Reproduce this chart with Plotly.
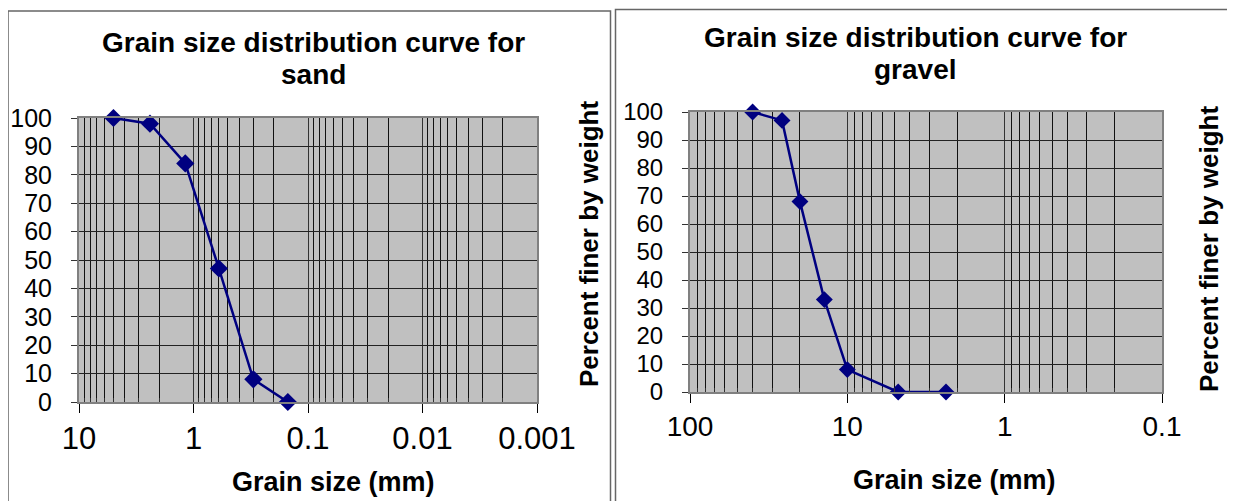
import plotly.graph_objects as go

# The page body has an 8px default margin; the figure is sized to fit the
# 1235x501 window inside it, and reference pixel positions are offset by it.
PAGE_W, PAGE_H = 1235, 501
OFF = 8
W, H = PAGE_W - OFF, PAGE_H - OFF

# ---- data ----
sand_size_mm = [5.0, 2.4, 1.18, 0.6, 0.3, 0.15]
sand_pct_finer = [100, 98, 84, 47, 8, 0]

gravel_size_mm = [40, 26, 20, 14, 10, 4.75, 2.36]
gravel_pct_finer = [100, 97, 68, 33, 8, 0, 0]

sand_xticks = [10, 1, 0.1, 0.01, 0.001]
sand_xticktext = ["10", "1", "0.1", "0.01", "0.001"]
gravel_xticks = [100, 10, 1, 0.1]
gravel_xticktext = ["100", "10", "1", "0.1"]
y_ticks = list(range(0, 101, 10))
y_ticktext = [str(v) for v in y_ticks]

title_sand = ["Grain size distribution curve for", "sand"]
title_gravel = ["Grain size distribution curve for", "gravel"]
x_title = "Grain size (mm)"
y_title = "Percent finer by weight"

FONT = "Liberation Sans, Arial, sans-serif"
NAVY = "#000080"


def px(x):
    return (x - OFF) / W


def py(y):
    return 1 - (y - OFF) / H


def minor_vals(k_lo, k_hi):
    return [m * 10.0 ** k for k in range(k_lo, k_hi + 1) for m in range(2, 10)]


fig = go.Figure()

fig.add_trace(go.Scatter(
    x=sand_size_mm, y=sand_pct_finer, mode="lines+markers",
    line=dict(color=NAVY, width=2.5),
    marker=dict(symbol="diamond", size=14, color=NAVY),
    cliponaxis=False, xaxis="x", yaxis="y", showlegend=False))

fig.add_trace(go.Scatter(
    x=gravel_size_mm, y=gravel_pct_finer, mode="lines+markers",
    line=dict(color=NAVY, width=2.5),
    marker=dict(symbol="diamond", size=13, color=NAVY),
    cliponaxis=False, xaxis="x2", yaxis="y2", showlegend=False))


def xaxis_cfg(dom, rng, tv, tt, minor, fsize, anchor):
    return dict(
        domain=dom, type="log", range=rng, anchor=anchor, automargin=False,
        tickmode="array", tickvals=tv, ticktext=tt,
        ticks="outside", ticklen=9, tickwidth=1, tickcolor="#000",
        ticklabelstandoff=-1,
        tickfont=dict(family=FONT, size=fsize, color="#000"),
        showgrid=True, gridcolor="#333", gridwidth=1,
        showline=True, linecolor="#808080", linewidth=2, mirror=True,
        zeroline=False,
        minor=dict(tickvals=minor, showgrid=True, gridcolor="#111",
                   gridwidth=1, ticks="inside", ticklen=4, tickcolor="#333"),
    )


def yaxis_cfg(dom, fsize, anchor):
    return dict(
        domain=dom, range=[0, 100], anchor=anchor, automargin=False,
        tickmode="array", tickvals=y_ticks, ticktext=y_ticktext,
        ticks="outside", ticklen=6, tickcolor="#333",
        ticklabelstandoff=14,
        tickfont=dict(family=FONT, size=fsize, color="#000"),
        showgrid=True, gridcolor="#222", gridwidth=1,
        showline=True, linecolor="#808080", linewidth=2, mirror=True,
        zeroline=False,
    )


fig.update_layout(
    template="none",
    width=W, height=H,
    margin=dict(l=0, r=0, t=0, b=0, pad=0),
    paper_bgcolor="white",
    plot_bgcolor="#C0C0C0",
    xaxis=xaxis_cfg([px(79), px(537)], [1, -3], sand_xticks, sand_xticktext,
                    minor_vals(-3, 0), 31, "y"),
    yaxis=yaxis_cfg([py(402), py(118)], 25, "x"),
    xaxis2=xaxis_cfg([px(690), px(1162)], [2, -1], gravel_xticks, gravel_xticktext,
                     minor_vals(-1, 1), 28, "y2"),
    yaxis2=yaxis_cfg([py(392), py(112)], 24, "x2"),
)

ann = []


def text(x, y, s, size, bold=False, angle=0):
    ann.append(dict(
        x=px(x), y=py(y), xref="paper", yref="paper",
        text=f"<b>{s}</b>" if bold else s, showarrow=False,
        xanchor="center", yanchor="middle", textangle=angle,
        font=dict(family=FONT, size=size, color="#000")))


# titles
text(313, 42, title_sand[0], 28, bold=True)
text(313, 75, title_sand[1], 28, bold=True)
text(915, 38, title_gravel[0], 28, bold=True)
text(915, 70, title_gravel[1], 28, bold=True)
# axis titles
text(333, 482, x_title, 27, bold=True)
text(954, 480, x_title, 27, bold=True)
text(589, 244, y_title, 26, bold=True, angle=-90)
text(1209, 249, y_title, 26, bold=True, angle=-90)

fig.update_layout(annotations=ann)

# panel borders
fig.update_layout(shapes=[
    dict(type="rect", xref="paper", yref="paper",
         x0=px(8), y0=py(11), x1=px(610.5), y1=py(505),
         line=dict(color="#666", width=1.5)),
    dict(type="rect", xref="paper", yref="paper",
         x0=px(615.5), y0=py(9.5), x1=px(1245), y1=py(505),
         line=dict(color="#666", width=1.5)),
])

fig.write_html("out.html")
